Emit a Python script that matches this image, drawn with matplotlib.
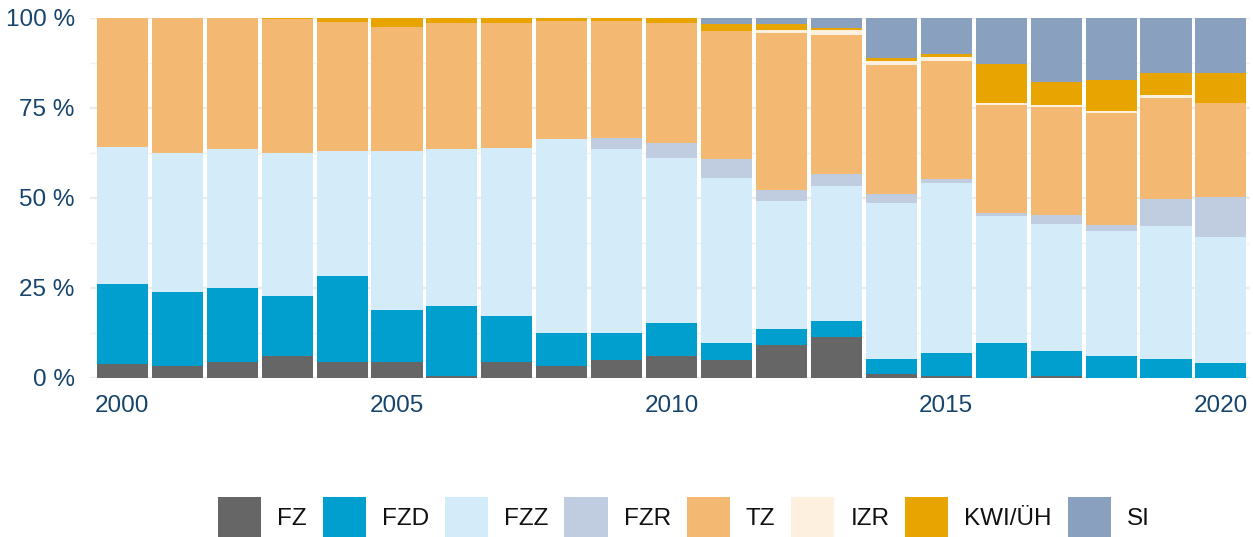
import numpy as np
import matplotlib
matplotlib.use("Agg")
import matplotlib.pyplot as plt
from matplotlib.ticker import FixedLocator

plt.rcParams['font.family'] = ['Liberation Sans', 'DejaVu Sans']

years = list(range(2000, 2021))
categories = ['FZ', 'FZD', 'FZZ', 'FZR', 'TZ', 'IZR', 'KWI/ÜH', 'SI']

# shares in percent per year
fz = [4.0, 3.3, 4.4, 6.0, 4.4, 4.4, 0.6, 4.4, 3.3, 5.0, 6.0,
      5.0, 9.3, 11.5, 1.0, 0.5, 0.0, 0.5, 0.0, 0.0, 0.0]
fzd = [22.0, 20.7, 20.6, 16.8, 23.9, 14.6, 19.4, 12.9, 9.3, 7.6, 9.3,
       4.8, 4.3, 4.3, 4.4, 6.5, 9.8, 7.0, 6.0, 5.4, 4.3]
fzz = [38.2, 38.6, 38.5, 39.6, 34.7, 44.0, 43.5, 46.7, 53.7, 51.1, 45.7,
       45.7, 35.6, 37.4, 43.3, 47.3, 35.2, 35.2, 34.8, 36.7, 35.0]
fzr = [0.0, 0.0, 0.0, 0.0, 0.0, 0.0, 0.0, 0.0, 0.0, 3.1, 4.2,
       5.2, 3.1, 3.5, 2.5, 0.9, 0.8, 2.5, 1.6, 7.5, 10.9]
tz = [35.8, 37.4, 36.5, 37.2, 36.0, 34.4, 35.0, 34.5, 32.8, 32.3, 33.3,
      35.7, 43.5, 38.5, 35.7, 32.8, 29.9, 30.0, 31.1, 28.3, 26.1]
izr = [0.0, 0.0, 0.0, 0.0, 0.0, 0.0, 0.0, 0.0, 0.0, 0.0, 0.0,
       0.0, 0.8, 1.4, 1.1, 1.1, 0.6, 0.6, 0.6, 0.6, 0.0]
kwi = [0.0, 0.0, 0.0, 0.4, 1.0, 2.6, 1.5, 1.5, 0.9, 0.9, 1.5,
       1.8, 1.6, 0.7, 0.9, 0.9, 10.9, 6.5, 8.7, 6.1, 8.3]
si = [0.0, 0.0, 0.0, 0.0, 0.0, 0.0, 0.0, 0.0, 0.0, 0.0, 0.0,
      1.8, 1.8, 2.7, 11.1, 10.0, 12.8, 17.7, 17.2, 15.4, 15.4]

colors = ['#666666', '#009FCE', '#D4EBF9', '#C0CCDF',
          '#F3B972', '#FDF0DF', '#E8A400', '#89A1BF']

series = [fz, fzd, fzz, fzr, tz, izr, kwi, si]

fig = plt.figure(figsize=(12.53, 5.37), dpi=100)
ax = fig.add_axes([90 / 1253, (537 - 378) / 537, 1160 / 1253, 360 / 537])

label_col = '#16446C'
bottom = np.zeros(len(years))
for name, vals, col in zip(categories, series, colors):
    vals = np.array(vals)
    ax.bar(years, vals, bottom=bottom, width=0.93, color=col, label=name,
           linewidth=0, zorder=3)
    bottom += vals

ax.set_xlim(1999.41, 2020.53)
ax.set_ylim(0, 100)
ax.set_yticks([0, 25, 50, 75, 100])
ax.set_yticklabels(['0 %', '25 %', '50 %', '75 %', '100 %'])
ax.yaxis.set_minor_locator(FixedLocator([12.5, 37.5, 62.5, 87.5]))
ax.set_xticks([2000, 2005, 2010, 2015, 2020])
ax.grid(axis='y', which='major', color='#EBEBEB', linewidth=1.6, zorder=0)
ax.grid(axis='y', which='minor', color='#F2F2F2', linewidth=1.0, zorder=0)
ax.tick_params(axis='both', which='both', length=0, labelsize=17.5,
               labelcolor=label_col)
ax.tick_params(axis='y', pad=11)
ax.tick_params(axis='x', pad=12)
for s in ax.spines.values():
    s.set_visible(False)

leg = fig.legend(loc='center', bbox_to_anchor=(684 / 1253, 20 / 537), ncol=8,
                 frameon=False, fontsize=17.5, handlelength=1.77,
                 handleheight=2.1, handletextpad=0.66, columnspacing=0.66,
                 borderaxespad=0)
for t in leg.get_texts():
    t.set_color('#111111')

fig.savefig('out.png', dpi=100)
